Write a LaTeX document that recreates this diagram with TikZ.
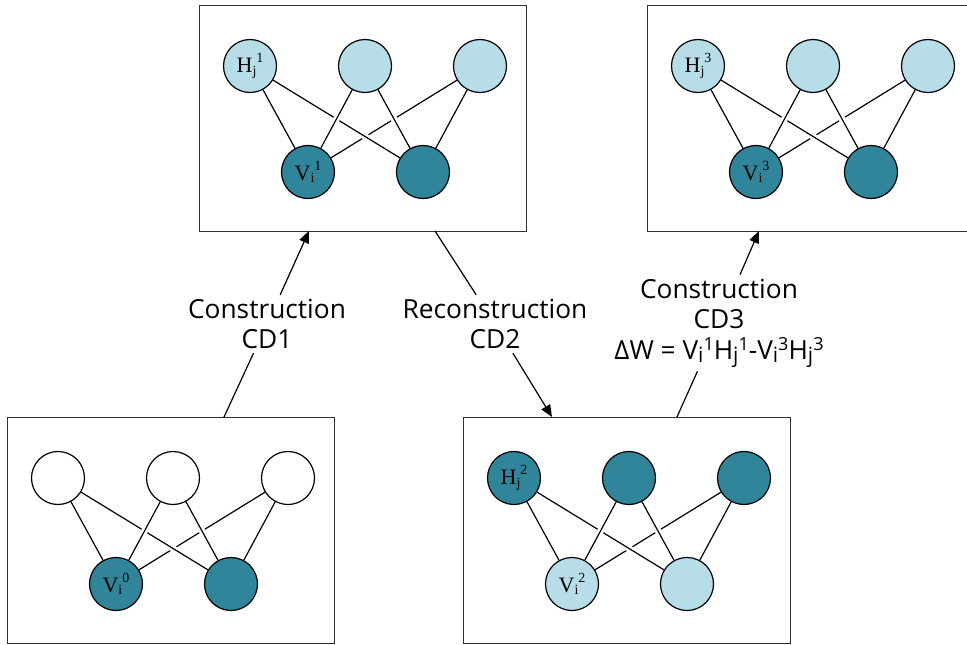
\documentclass[tikz,border=0pt]{standalone}
\usepackage{fontspec}
\setsansfont{Open Sans}
\newfontfamily\unitfont{Liberation Serif}
\usetikzlibrary{arrows.meta,backgrounds}
\definecolor{unitdark}{RGB}{49,133,155}
\definecolor{unitlight}{RGB}{183,221,232}
\definecolor{framegray}{RGB}{50,50,50}
% indices inside the units
\newcommand\usub[1]{\raisebox{-2.5pt}{\fontsize{14}{14}\selectfont #1}}
\newcommand\usup[1]{\raisebox{10pt}{\fontsize{14}{14}\selectfont #1}}
% indices in the update rule
\newcommand\tsub[1]{\raisebox{-3pt}{\fontsize{21}{21}\selectfont #1}}
\newcommand\tsup[1]{\raisebox{9pt}{\fontsize{18}{18}\selectfont #1}}
\tikzset{
  panel/.style={draw=framegray, line width=1.4pt, minimum width=327pt,
    minimum height=226pt, inner sep=0pt, anchor=north west},
  unit/.style={circle, draw=black, line width=1.2pt, minimum size=53pt,
    inner sep=0pt, font=\unitfont\fontsize{22}{22}\selectfont},
  wire/.style={draw=black, line width=1.2pt},
  overwire/.style={preaction={draw=white, line width=6.5pt}, wire},
  caption/.style={font=\sffamily\fontsize{26.3}{30.5}\selectfont, align=center, inner sep=4pt},
  link/.style={draw=black, line width=1.2pt},
  flow/.style={link, -{Triangle[length=12pt,width=10pt]}},
  % one restricted Boltzmann machine: hidden fill, visible fill, two labels
  pics/rbm/.style n args={4}{code={
    \node[panel] (-box) at (0,0) {};
    \node[unit, fill=#1] (-h1) at (51,61)  {#3};
    \node[unit, fill=#1] (-h2) at (166,61) {};
    \node[unit, fill=#1] (-h3) at (281,61) {};
    \node[unit, fill=#2] (-v1) at (109,167) {#4};
    \node[unit, fill=#2] (-v2) at (224,167) {};
    \begin{pgfonlayer}{background}
      \draw[wire]     (-h3.center) -- (-v1.center);
      \draw[overwire] (-h1.center) -- (-v2.center);
      \draw[overwire] (-h2.center) -- (-v1.center);
      \draw[overwire] (-h2.center) -- (-v2.center);
      \draw[wire]     (-h1.center) -- (-v1.center);
      \draw[wire]     (-h3.center) -- (-v2.center);
    \end{pgfonlayer}
  }}
}
\begin{document}
\begin{tikzpicture}[x=1pt, y=-1pt]
  \useasboundingbox (0,0) rectangle (967,645);
  \clip (0,0) rectangle (967,645);

  \pic (p0) at (7,417)  {rbm={white}{unitdark}{}{V\usub{i}\usup{0}}};
  \pic (p1) at (199,5)  {rbm={unitlight}{unitdark}{H\usub{j}\usup{1}}{V\usub{i}\usup{1}}};
  \pic (p2) at (463,417) {rbm={unitdark}{unitlight}{H\usub{j}\usup{2}}{V\usub{i}\usup{2}}};
  \pic (p3) at (647,5)  {rbm={unitlight}{unitdark}{H\usub{j}\usup{3}}{V\usub{i}\usup{3}}};

  \node[caption] (c1) at (267,324) {Construction\\CD1};
  \node[caption] (c2) at (495,324) {Reconstruction\\CD2};
  \node[caption] (c3) at (719,323) {Construction\\CD3\\
    ΔW = V\tsub{i}\tsup{1}H\tsub{j}\tsup{1}-V\tsub{i}\tsup{3}H\tsub{j}\tsup{3}};

  % attachment points on the panel frames
  \coordinate (p0out) at (224,417);
  \coordinate (p1in)  at (309,231);
  \coordinate (p1out) at (435,231);
  \coordinate (p2in)  at (552,417);
  \coordinate (p2out) at (677,417);
  \coordinate (p3in)  at (759,231);

  \draw[link] (p0out) -- (c1);
  \draw[flow] (c1) -- (p1in);
  \draw[link] (p1out) -- (c2);
  \draw[flow] (c2) -- (p2in);
  \draw[link] (p2out) -- (c3);
  \draw[flow] (c3) -- (p3in);
\end{tikzpicture}
\end{document}
